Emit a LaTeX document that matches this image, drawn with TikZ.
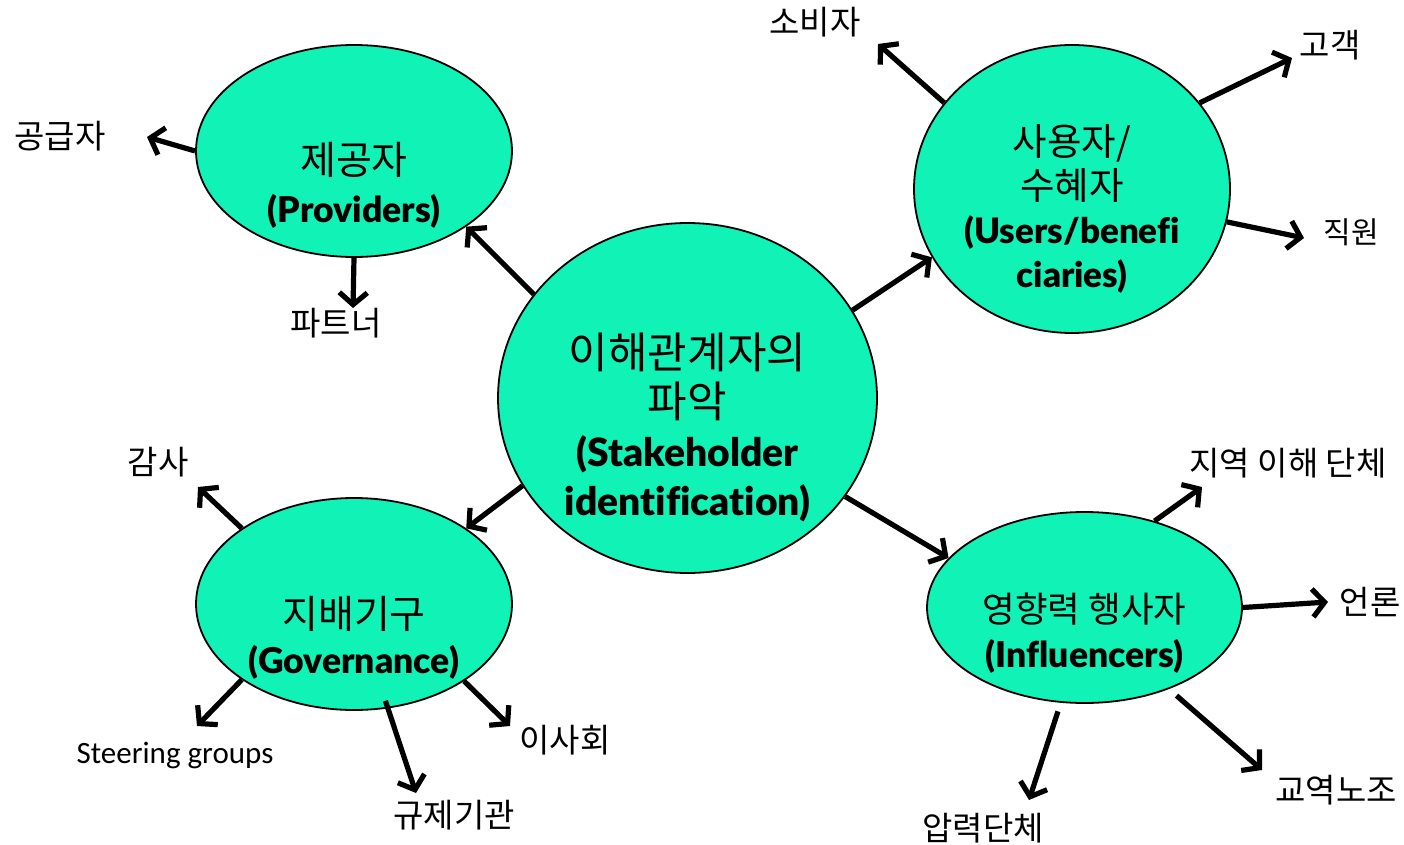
\documentclass[tikz,border=0pt]{standalone}
\usepackage{fontspec}
\usetikzlibrary{arrows.meta,shapes.geometric}
\newfontfamily\kr{Noto Sans CJK KR}
\newfontfamily\lat{Lato Black}[Ligatures=CommonOff]
\newfontfamily\calfont{Carlito}
\definecolor{bubblefill}{RGB}{17,242,182}

\tikzset{
  bubble/.style={ellipse, draw=black, line width=1.8pt, fill=bubblefill, inner sep=0pt},
  link/.style={line width=5.2pt, -{Straight Barb[length=12pt,width=28pt]}},
  lbl/.style={font=\kr\fontsize{33}{38}\selectfont, text=black, inner sep=0pt},
  inbox/.style={align=center, inner sep=0pt, text=black}
}

\begin{document}
\begin{tikzpicture}[x=1pt,y=-1pt]
\useasboundingbox[fill=white] (0,0) rectangle (1404,845);

% the five bubbles
\node[bubble, minimum width=379pt, minimum height=350pt] (hub)  at (687.5,398) {};
\node[bubble, minimum width=316pt, minimum height=212pt] (prov) at (354,151) {};
\node[bubble, minimum width=316pt, minimum height=288pt] (user) at (1072,189) {};
\node[bubble, minimum width=316pt, minimum height=212pt] (gov)  at (354,604) {};
\node[bubble, minimum width=315pt, minimum height=191pt] (infl) at (1084.5,607.5) {};

% bubble captions
\node[inbox, font=\fontsize{43}{49}\selectfont] (hubtxt) at (687.5,427)
  {{\kr 이해관계자의}\\{\kr 파악}\\{\lat\fontsize{39}{49}\selectfont (Stakeholder}\\{\lat\fontsize{39}{49}\selectfont identification)}};
\node[inbox, font=\fontsize{39}{48}\selectfont] (provtxt) at (354,185)
  {{\kr 제공자}\\{\lat\fontsize{35.5}{48}\selectfont (Providers)}};
\node[inbox, font=\fontsize{37.5}{44}\selectfont] (usertxt) at (1072,209)
  {{\kr 사용자/}\\{\kr 수혜자}\\{\lat\fontsize{35}{44}\selectfont (Users/benefi}\\{\lat\fontsize{35}{44}\selectfont ciaries)}};
\node[inbox, font=\fontsize{39}{45}\selectfont] (govtxt) at (354,638)
  {{\kr 지배기구}\\{\lat\fontsize{35.5}{45}\selectfont (Governance)}};
\node[inbox, font=\fontsize{35.5}{45}\selectfont] (infltxt) at (1084.5,633)
  {{\kr 영향력 행사자}\\{\lat\fontsize{35.5}{45}\selectfont (Influencers)}};

% outer labels
\node[lbl] (l1)  at (60,136)   {공급자};
\node[lbl] (l2)  at (336,323)  {파트너};
\node[lbl] (l3)  at (815,22)   {소비자};
\node[lbl] (l4)  at (1330,45)  {고객};
\node[lbl, font=\kr\fontsize{30}{34}\selectfont] (l5) at (1351,232) {직원};
\node[lbl] (l6)  at (158,462)  {감사};
\node[lbl, font=\calfont\fontsize{31}{36}\selectfont] (l7) at (175,755) {Steering groups};
\node[lbl] (l8)  at (454,815)  {규제기관};
\node[lbl] (l9)  at (565,740)  {이사회};
\node[lbl] (l10) at (1288,463) {지역 이해 단체};
\node[lbl] (l11) at (1370,602) {언론};
\node[lbl] (l12) at (1336,790) {교역노조};
\node[lbl] (l13) at (983,828)  {압력단체};

% arrow tips next to the labels
\coordinate (t1)  at (147,137);
\coordinate (t2)  at (353,308);
\coordinate (t3)  at (878,44);
\coordinate (t4)  at (1292,58);
\coordinate (t5)  at (1304,238);
\coordinate (t6)  at (198,487);
\coordinate (t7)  at (197,726);
\coordinate (t8)  at (416,793);
\coordinate (t9)  at (510,726);
\coordinate (t10) at (1202,487);
\coordinate (t11) at (1328,602);
\coordinate (t12) at (1262,770);
\coordinate (t13) at (1029,800);

% hub to the four groups
\draw[link] (hub.146) -- (prov.326);
\draw[link] (hub.28)  -- (user.206);
\draw[link] (hub.208) -- (gov.34);
\draw[link] (hub.328) -- (infl.160.5);

% providers
\draw[link] (prov.180) -- (t1);
\draw[link] (prov.270) -- (t2);
% users
\draw[link] (user.146) -- (t3);
\draw[link] (user.34.7) -- (t4);
\draw[link] (user.348) -- (t5);
% governance
\draw[link] (gov.146) -- (t6);
\draw[link] (gov.214) -- (t7);
\draw[link, shorten <=-8pt] (gov.288) -- (t8);
\draw[link] (gov.325.6) -- (t9);
% influencers
\draw[link] (infl.51.4) -- (t10);
\draw[link] (infl.0) -- (t11);
\draw[link, shorten <=10pt] (infl.316) -- (t12);
\draw[link, shorten <=9pt] (infl.256) -- (t13);
\end{tikzpicture}
\end{document}
